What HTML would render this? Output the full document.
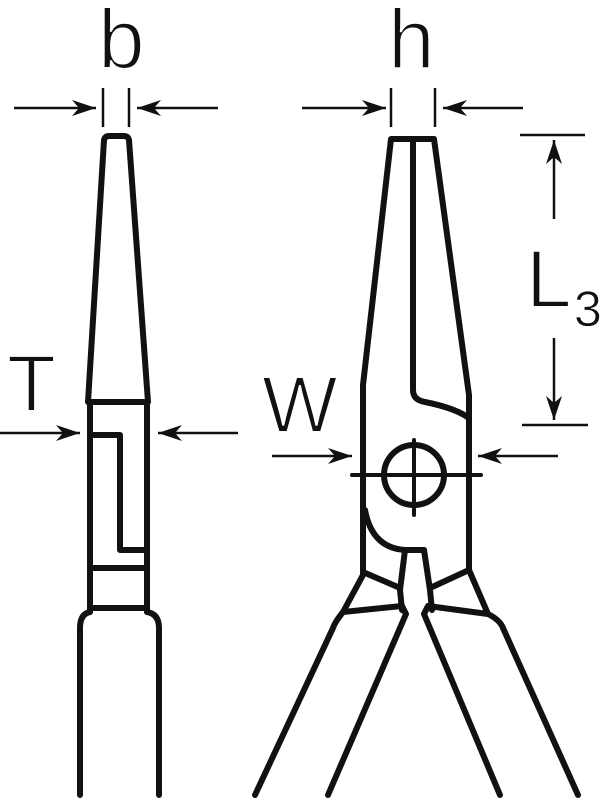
<!DOCTYPE html>
<html><head><meta charset="utf-8"><style>
html,body{margin:0;padding:0;background:#fff;width:606px;height:800px;overflow:hidden}
svg{display:block}
text{font-family:"Liberation Sans","DejaVu Sans",sans-serif;fill:#111;stroke:#fff;stroke-width:2px;paint-order:fill stroke;}
</style></head><body>
<svg width="606" height="800" viewBox="0 0 606 800" xmlns="http://www.w3.org/2000/svg">
<defs>
<marker id="a" viewBox="0 0 24 16" refX="24" refY="8" markerWidth="24" markerHeight="16" markerUnits="userSpaceOnUse" orient="auto"><path d="M0,0 L24,8 L0,16 L7,8 Z" fill="#111"/></marker>
</defs>
<g fill="none" stroke="#111" stroke-width="6" stroke-linejoin="round" stroke-linecap="round">
<path d="M88,402 L104,140 Q105,136 109,136 L124,136 Q128,136 129,140 L148,402"/>
<path d="M90,402 L90,612 M147,402 L147,612 M90,402 L147,402 M90,568 L147,568 M90,608 L147,608"/>
<path d="M90,435 L120,435 L120,550 L147,550"/>
<path d="M90,612 Q80,614 80,628 L80,795 M147,612 Q159,614 159,628 L159,795"/>
<path d="M363,385 L391,139 L434,139 L469,395 L469,570"/>
<path d="M363,385 L363,575"/>
<path d="M413,139 L413,390 Q413,400 425,402 Q455,408 469,418"/>
<circle cx="414" cy="475" r="30"/>
<path d="M365,510 Q372,548 405,550 L424,550 L430,590 L432,610"/>
<path d="M405,550 L400,590 L402,610"/>
<path d="M363,572 L400,588 M469,570 L430,588"/>
<path d="M363,575 L343,612 Q335,622 333,628 L255,795"/>
<path d="M343,612 L402,606 L406,614 L328,795"/>
<path d="M469,570 L488,614 Q500,620 503,628 L578,795"/>
<path d="M488,614 L428,606 L424,614 L500,795"/>
</g>
<g stroke="#111" stroke-width="4" stroke-linecap="round">
<line x1="352" y1="475" x2="481" y2="475"/>
<line x1="414" y1="440" x2="414" y2="515"/>
</g>
<g stroke="#111" stroke-width="2.5" fill="none">
<line x1="103" y1="88" x2="103" y2="127"/><line x1="129" y1="88" x2="129" y2="127"/>
<line x1="14" y1="108" x2="96" y2="108" marker-end="url(#a)"/>
<line x1="218" y1="108" x2="137" y2="108" marker-end="url(#a)"/>
<line x1="391" y1="88" x2="391" y2="127"/><line x1="435" y1="88" x2="435" y2="127"/>
<line x1="302" y1="108" x2="386" y2="108" marker-end="url(#a)"/>
<line x1="523" y1="108" x2="443" y2="108" marker-end="url(#a)"/>
<line x1="520" y1="135" x2="585" y2="135"/>
<line x1="522" y1="425" x2="588" y2="425"/>
<line x1="554" y1="219" x2="554" y2="140" marker-end="url(#a)"/>
<line x1="554" y1="338" x2="554" y2="420" marker-end="url(#a)"/>
<line x1="0" y1="433" x2="80" y2="433" marker-end="url(#a)"/>
<line x1="238" y1="433" x2="158" y2="433" marker-end="url(#a)"/>
<line x1="272" y1="456" x2="352" y2="456" marker-end="url(#a)"/>
<line x1="558" y1="456" x2="478" y2="456" marker-end="url(#a)"/>
</g>
<text x="98" y="68" font-size="84">b</text>
<text x="388" y="68" font-size="84">h</text>
<text x="7" y="411" font-size="80">T</text>
<text x="262" y="432" font-size="80">W</text>
<text x="526" y="307" font-size="82">L</text>
<text x="574" y="326" font-size="50" style="stroke-width:0.8px">3</text>
</svg>
</body></html>
